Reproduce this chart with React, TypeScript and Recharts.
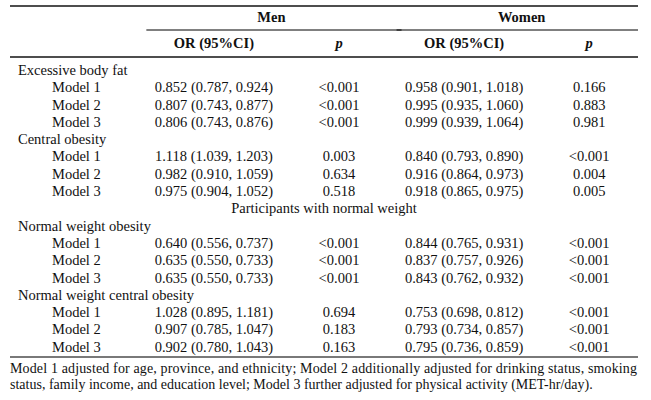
import { ScatterChart, Scatter, XAxis, YAxis } from "recharts";

const GROUPS = ["Men", "Women"];
const COL_HEADERS = ["OR (95%CI)", "p", "OR (95%CI)", "p"];
const SECTIONS = ["Excessive body fat", "Central obesity", "Normal weight obesity", "Normal weight central obesity"];
const MODELS = ["Model 1", "Model 2", "Model 3"];
const SUBHEAD = "Participants with normal weight";

// one entry per section x model, in table order
const MEN_OR = [0.852, 0.807, 0.806, 1.118, 0.982, 0.975, 0.64, 0.635, 0.635, 1.028, 0.907, 0.902];
const MEN_LO = [0.787, 0.743, 0.743, 1.039, 0.91, 0.904, 0.556, 0.55, 0.55, 0.895, 0.785, 0.78];
const MEN_HI = [0.924, 0.877, 0.876, 1.203, 1.059, 1.052, 0.737, 0.733, 0.733, 1.181, 1.047, 1.043];
const MEN_P = ["<0.001", "<0.001", "<0.001", "0.003", "0.634", "0.518", "<0.001", "<0.001", "<0.001", "0.694", "0.183", "0.163"];

const WOMEN_OR = [0.958, 0.995, 0.999, 0.84, 0.916, 0.918, 0.844, 0.837, 0.843, 0.753, 0.793, 0.795];
const WOMEN_LO = [0.901, 0.935, 0.939, 0.793, 0.864, 0.865, 0.765, 0.757, 0.762, 0.698, 0.734, 0.736];
const WOMEN_HI = [1.018, 1.06, 1.064, 0.89, 0.973, 0.975, 0.931, 0.926, 0.932, 0.812, 0.857, 0.859];
const WOMEN_P = ["0.166", "0.883", "0.981", "<0.001", "0.004", "0.005", "<0.001", "<0.001", "<0.001", "<0.001", "<0.001", "<0.001"];

const FOOTNOTE = [
  "Model 1 adjusted for age, province, and ethnicity; Model 2 additionally adjusted for drinking status, smoking",
  "status, family income, and education level; Model 3 further adjusted for physical activity (MET-hr/day).",
];

const W = 651;
const H = 400;
const MARGIN = { top: 5, right: 13, bottom: 0, left: 0 };
const Y_AXIS_W = 10;
const X_DOMAIN: [number, number] = [-0.63, 4.39];
const Y_DOMAIN: [number, number] = [-0.75, 16.6];
const PLOT_L = MARGIN.left + Y_AXIS_W;
const PLOT_R = W - MARGIN.right;
const COL_PX = (PLOT_R - PLOT_L) / (X_DOMAIN[1] - X_DOMAIN[0]);

const FONT = '"Liberation Serif", "Times New Roman", serif';
const FS = 14.5;
const INK = "#111";
const RULE = "#4d4d4d";

const fmt = (or: number, lo: number, hi: number) => `${or.toFixed(3)} (${lo.toFixed(3)}, ${hi.toFixed(3)})`;

type Row = { text: string; kind: "section" | "model" | "span"; idx?: number };

const ROWS: Row[] = [];
SECTIONS.forEach((s, si) => {
  if (si === 2) ROWS.push({ text: SUBHEAD, kind: "span" });
  ROWS.push({ text: s, kind: "section" });
  MODELS.forEach((m, mi) => ROWS.push({ text: m, kind: "model", idx: si * 3 + mi }));
});

const CELLS = ROWS.flatMap((r, row) => {
  if (r.kind !== "model" || r.idx === undefined) return [];
  const i = r.idx;
  return [
    { col: 1, row, text: fmt(MEN_OR[i], MEN_LO[i], MEN_HI[i]) },
    { col: 2, row, text: MEN_P[i] },
    { col: 3, row, text: fmt(WOMEN_OR[i], WOMEN_LO[i], WOMEN_HI[i]) },
    { col: 4, row, text: WOMEN_P[i] },
  ];
});

function CellText({ cx, cy, payload }: any) {
  return (
    <text x={cx} y={cy} dy="0.35em" textAnchor="middle" fontFamily={FONT} fontSize={FS} fill={INK}>
      {payload.text}
    </text>
  );
}

function RowTick({ y, payload }: any) {
  const row = ROWS[payload.value];
  if (!row) return null;
  if (row.kind === "span") {
    return (
      <text x={(PLOT_L + PLOT_R) / 2} y={y} dy="0.35em" textAnchor="middle" fontFamily={FONT} fontSize={FS} fill={INK}>
        {row.text}
      </text>
    );
  }
  return (
    <text x={PLOT_L + (row.kind === "model" ? 42 : 8)} y={y} dy="0.35em" textAnchor="start" fontFamily={FONT} fontSize={FS} fill={INK}>
      {row.text}
    </text>
  );
}

// column header; the OR column of each group also carries the group name and its rule
function ColTick({ x, y, payload }: any) {
  const c = payload.value;
  const label = COL_HEADERS[c - 1];
  const isOR = c % 2 === 1;
  const gx = x + COL_PX * 0.46;
  const ruleY = y - 25;
  return (
    <g fontFamily={FONT} fontSize={FS} fontWeight="bold" fill={INK}>
      <text x={x} y={y - 7} textAnchor="middle" fontStyle={label === "p" ? "italic" : "normal"}>
        {label}
      </text>
      {isOR && (
        <>
          <text x={gx} y={ruleY - 8} textAnchor="middle">{GROUPS[(c - 1) / 2]}</text>
          <line x1={Math.max(PLOT_L, x - COL_PX * 0.54)} x2={Math.min(PLOT_R, x + COL_PX * 1.5)} y1={ruleY} y2={ruleY}
            stroke="#000" strokeWidth={1} />
        </>
      )}
    </g>
  );
}

function FootLabel({ viewBox }: any) {
  const { x, y } = viewBox;
  return (
    <g fontFamily={FONT} fontSize={14} fill={INK}>
      <text x={x} y={y + 16} textLength={PLOT_R - PLOT_L - 1} lengthAdjust="spacing">{FOOTNOTE[0]}</text>
      <text x={x} y={y + 32}>{FOOTNOTE[1]}</text>
    </g>
  );
}

export default function App() {
  return (
    <div style={{ position: "absolute", left: 0, top: 0, width: W, height: H, background: "#fff" }}>
      <ScatterChart width={W} height={H} margin={MARGIN}>
        <XAxis xAxisId="col" type="number" dataKey="col" orientation="top" domain={X_DOMAIN} allowDataOverflow
          ticks={[1, 2, 3, 4]} interval={0} height={51} tickSize={0} tickLine={false}
          axisLine={{ stroke: RULE, strokeWidth: 2 }} tick={<ColTick />} />
        <XAxis xAxisId="frame" type="number" orientation="top" domain={X_DOMAIN} allowDataOverflow
          height={1} tick={false} tickLine={false} axisLine={{ stroke: RULE, strokeWidth: 2 }} />
        <XAxis xAxisId="foot" type="number" orientation="bottom" domain={X_DOMAIN} allowDataOverflow
          height={43} tick={false} tickLine={false} axisLine={{ stroke: RULE, strokeWidth: 1.5 }}
          label={FootLabel} />
        <YAxis type="number" dataKey="row" domain={Y_DOMAIN} allowDataOverflow reversed width={Y_AXIS_W}
          ticks={ROWS.map((_, i) => i)} interval={0} tickSize={0} tickLine={false} axisLine={false}
          tick={<RowTick />} />
        <Scatter xAxisId="col" data={CELLS} shape={CellText} isAnimationActive={false} />
      </ScatterChart>
    </div>
  );
}
